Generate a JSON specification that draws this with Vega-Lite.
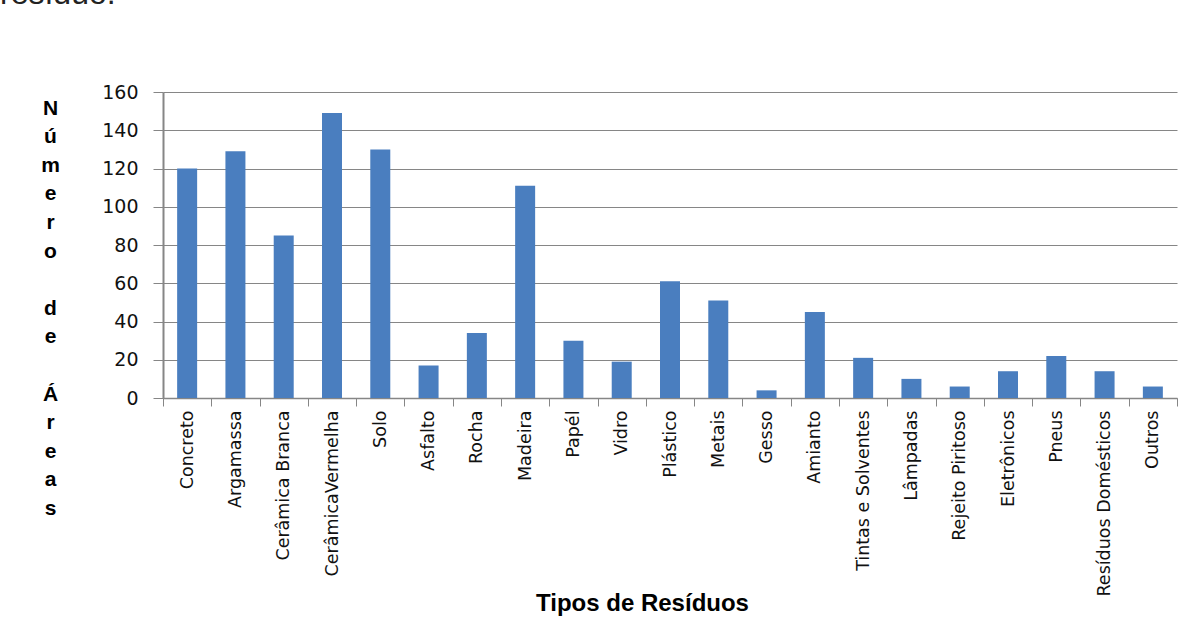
{
  "$schema": "https://vega.github.io/schema/vega-lite/v6.json",
  "autosize": {"type": "none"},
  "padding": {"left": 163, "top": 92, "right": 22, "bottom": 227},
  "width": 1014,
  "height": 306,
  "background": "white",
  "title": {
    "text": "resíduo.",
    "anchor": "start",
    "frame": "group",
    "orient": "top",
    "offset": 47,
    "dx": -163,
    "baseline": "alphabetic",
    "font": "Liberation Sans",
    "fontSize": 32,
    "fontWeight": "normal",
    "color": "#222222"
  },
  "data": {
    "values": [
      {"tipo": "Concreto", "areas": 120},
      {"tipo": "Argamassa", "areas": 129},
      {"tipo": "Cerâmica Branca", "areas": 85},
      {"tipo": "CerâmicaVermelha", "areas": 149},
      {"tipo": "Solo", "areas": 130},
      {"tipo": "Asfalto", "areas": 17},
      {"tipo": "Rocha", "areas": 34},
      {"tipo": "Madeira", "areas": 111},
      {"tipo": "Papél", "areas": 30},
      {"tipo": "Vidro", "areas": 19},
      {"tipo": "Plástico", "areas": 61},
      {"tipo": "Metais", "areas": 51},
      {"tipo": "Gesso", "areas": 4},
      {"tipo": "Amianto", "areas": 45},
      {"tipo": "Tintas e Solventes", "areas": 21},
      {"tipo": "Lâmpadas", "areas": 10},
      {"tipo": "Rejeito Piritoso", "areas": 6},
      {"tipo": "Eletrônicos", "areas": 14},
      {"tipo": "Pneus", "areas": 22},
      {"tipo": "Resíduos Domésticos", "areas": 14},
      {"tipo": "Outros", "areas": 6}
    ]
  },
  "mark": {"type": "bar", "color": "#4A7EBF", "width": 20},
  "encoding": {
    "x": {
      "field": "tipo",
      "type": "nominal",
      "sort": null,
      "scale": {"paddingInner": 0, "paddingOuter": 0},
      "axis": {
        "title": "Tipos de Resíduos",
        "titleFont": "Liberation Sans",
        "titleFontSize": 24,
        "titleFontWeight": "bold",
        "titleColor": "#000000",
        "titleX": 479,
        "titleY": 212,
        "titleAlign": "center",
        "titleBaseline": "alphabetic",
        "labelAngle": -90,
        "labelFont": "DejaVu Sans",
        "labelFontSize": 17.5,
        "labelColor": "#111111",
        "labelPadding": 4,
        "labelLimit": 300,
        "tickBand": "extent",
        "tickSize": 8,
        "tickColor": "#868686",
        "tickWidth": 1,
        "domainColor": "#868686",
        "domainWidth": 1.5,
        "grid": false
      }
    },
    "y": {
      "field": "areas",
      "type": "quantitative",
      "scale": {"domain": [0, 160], "nice": false},
      "axis": {
        "values": [0, 20, 40, 60, 80, 100, 120, 140, 160],
        "title": ["N", "ú", "m", "e", "r", "o", "\u2800", "d", "e", "\u2800", "Á", "r", "e", "a", "s"],
        "titleFont": "Liberation Sans",
        "titleFontSize": 21,
        "titleFontWeight": "bold",
        "titleColor": "#000000",
        "titleAngle": 0,
        "titleAlign": "center",
        "titleBaseline": "top",
        "titleLineHeight": 28.6,
        "titleX": -113,
        "titleY": 5,
        "labelFont": "DejaVu Sans",
        "labelFontSize": 19,
        "labelColor": "#111111",
        "labelPadding": 15,
        "tickSize": 10,
        "tickColor": "#868686",
        "tickWidth": 1,
        "domainColor": "#868686",
        "domainWidth": 2,
        "grid": true,
        "gridColor": "#868686",
        "gridWidth": 1
      }
    }
  },
  "config": {"view": {"stroke": null}}
}
